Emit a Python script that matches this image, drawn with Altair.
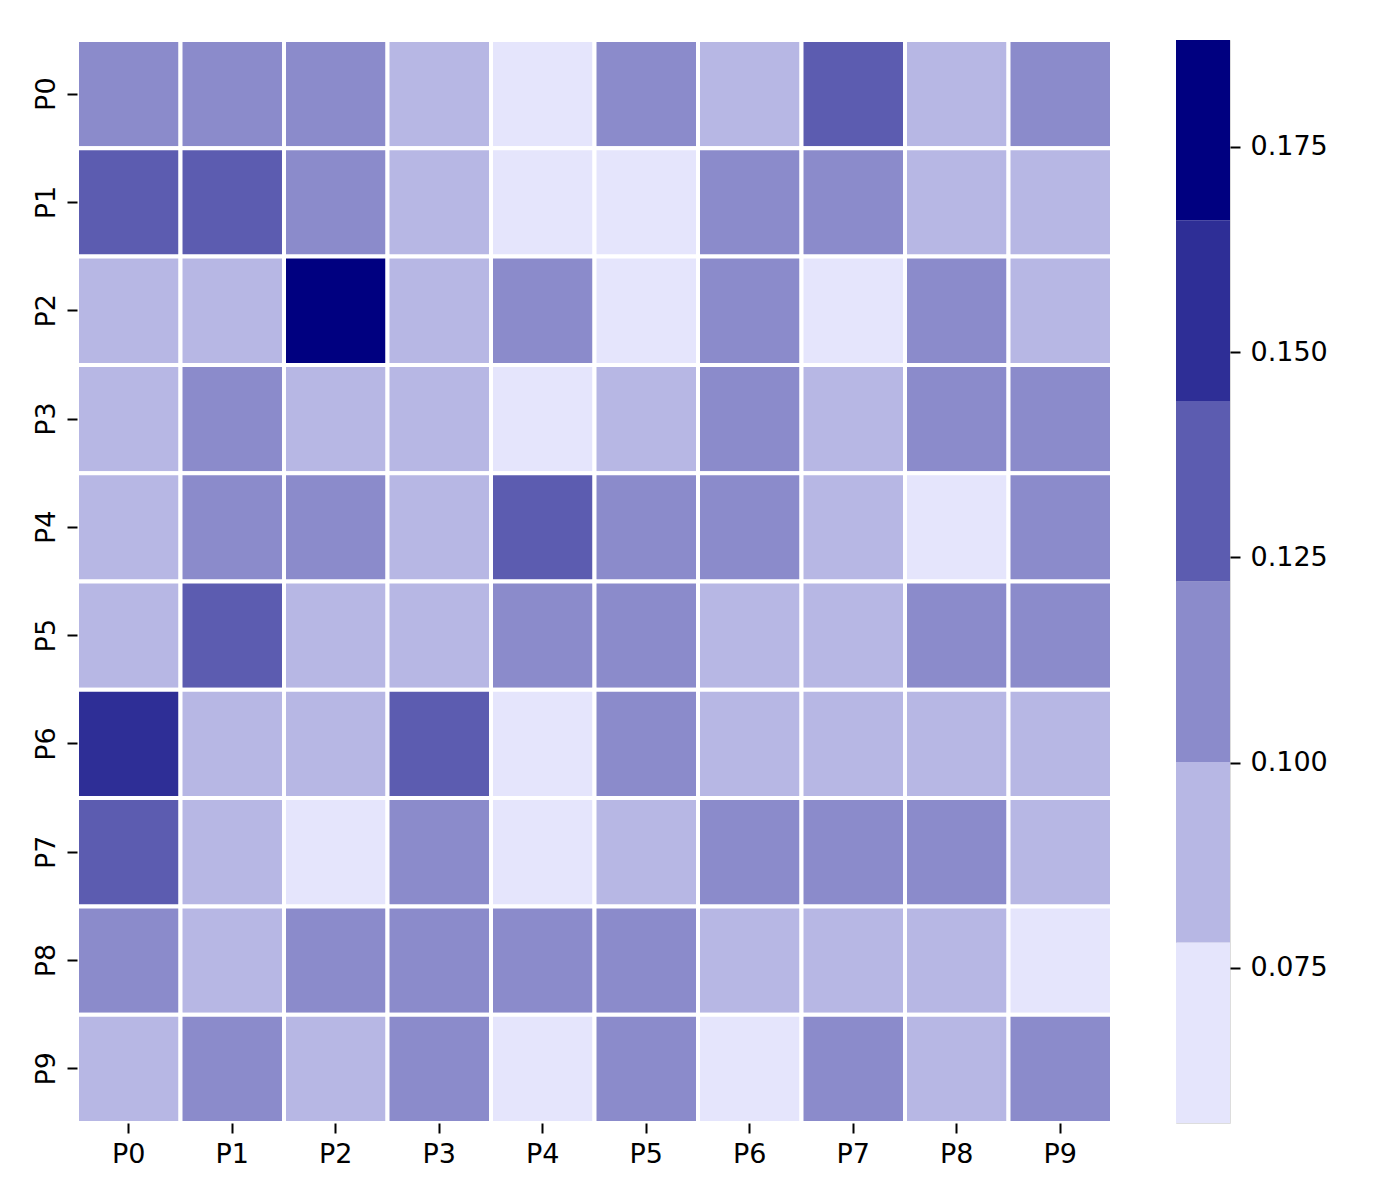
import altair as alt
import pandas as pd
import numpy as np

labels = ["P0", "P1", "P2", "P3", "P4", "P5", "P6", "P7", "P8", "P9"]

row_P0 = [0.110, 0.108, 0.112, 0.092, 0.062, 0.105, 0.088, 0.135, 0.086, 0.103]
row_P1 = [0.132, 0.130, 0.106, 0.090, 0.070, 0.072, 0.108, 0.104, 0.094, 0.088]
row_P2 = [0.085, 0.084, 0.188, 0.089, 0.102, 0.068, 0.110, 0.066, 0.112, 0.096]
row_P3 = [0.094, 0.108, 0.090, 0.093, 0.075, 0.088, 0.106, 0.095, 0.109, 0.114]
row_P4 = [0.090, 0.104, 0.110, 0.096, 0.128, 0.111, 0.106, 0.092, 0.071, 0.102]
row_P5 = [0.088, 0.127, 0.094, 0.097, 0.105, 0.113, 0.092, 0.091, 0.107, 0.110]
row_P6 = [0.150, 0.090, 0.093, 0.125, 0.069, 0.104, 0.085, 0.088, 0.096, 0.089]
row_P7 = [0.133, 0.086, 0.073, 0.113, 0.066, 0.091, 0.104, 0.109, 0.115, 0.095]
row_P8 = [0.107, 0.093, 0.109, 0.103, 0.111, 0.116, 0.087, 0.091, 0.098, 0.077]
row_P9 = [0.097, 0.106, 0.089, 0.104, 0.074, 0.112, 0.0561, 0.109, 0.095, 0.115]

rows = [row_P0, row_P1, row_P2, row_P3, row_P4, row_P5, row_P6, row_P7, row_P8, row_P9]

palette = ["#e5e5fc", "#b7b7e4", "#8b8bcb", "#5c5cb0", "#2e2e96", "#000080"]
cbar_ticks = [0.075, 0.100, 0.125, 0.150, 0.175]

records = []
for r, row in zip(labels, rows):
    for c, v in zip(labels, row):
        records.append({"row": r, "col": c, "value": v})
df = pd.DataFrame(records)

vmin = float(df["value"].min())
vmax = float(df["value"].max())
n = len(palette)
edges = [vmin + (vmax - vmin) * i / n for i in range(n + 1)]
cbar = pd.DataFrame({"lo": edges[:-1], "hi": edges[1:], "color": palette})

FONT = "DejaVu Sans"
FS = 27

heat = alt.Chart(df).mark_rect(stroke="white", strokeWidth=4).encode(
    x=alt.X("col:O", sort=labels, title=None,
            scale=alt.Scale(paddingInner=0, paddingOuter=0),
            axis=alt.Axis(labelAngle=0, labelFontSize=FS, labelFont=FONT,
                          labelColor="black", tickColor="black", tickSize=10,
                          tickWidth=2, labelPadding=8, domain=False, grid=False)),
    y=alt.Y("row:O", sort=labels, title=None,
            scale=alt.Scale(paddingInner=0, paddingOuter=0),
            axis=alt.Axis(labelAngle=270, labelAlign="center", labelBaseline="alphabetic",
                          labelFontSize=FS, labelFont=FONT, labelColor="black",
                          tickColor="black", tickSize=10, tickWidth=2,
                          labelPadding=13, domain=False, grid=False)),
    color=alt.Color("value:Q", legend=None,
                    scale=alt.Scale(type="quantize", domain=[vmin, vmax],
                                    range=palette, zero=False, nice=False)),
).properties(width=1035, height=1083)

bar = alt.Chart(cbar).mark_rect().encode(
    y=alt.Y("lo:Q", title=None,
            scale=alt.Scale(domain=[vmin, vmax], nice=False, zero=False),
            axis=alt.Axis(orient="right", values=cbar_ticks, format=".3f",
                          labelFontSize=FS, labelFont=FONT, labelColor="black",
                          tickColor="black", tickSize=10, tickWidth=2,
                          labelPadding=10, domain=False, grid=False)),
    y2="hi:Q",
    x=alt.value(0),
    x2=alt.value(54),
    color=alt.Color("color:N", scale=None, legend=None),
).properties(width=54, height=1083)

chart = alt.hconcat(heat, bar, spacing=60).properties(
    padding={"left": 31, "top": 37, "right": 10, "bottom": 10}
).configure_view(stroke=None).configure(background="white")

chart.save("out.html", embed_options={"renderer": "svg", "actions": False})
